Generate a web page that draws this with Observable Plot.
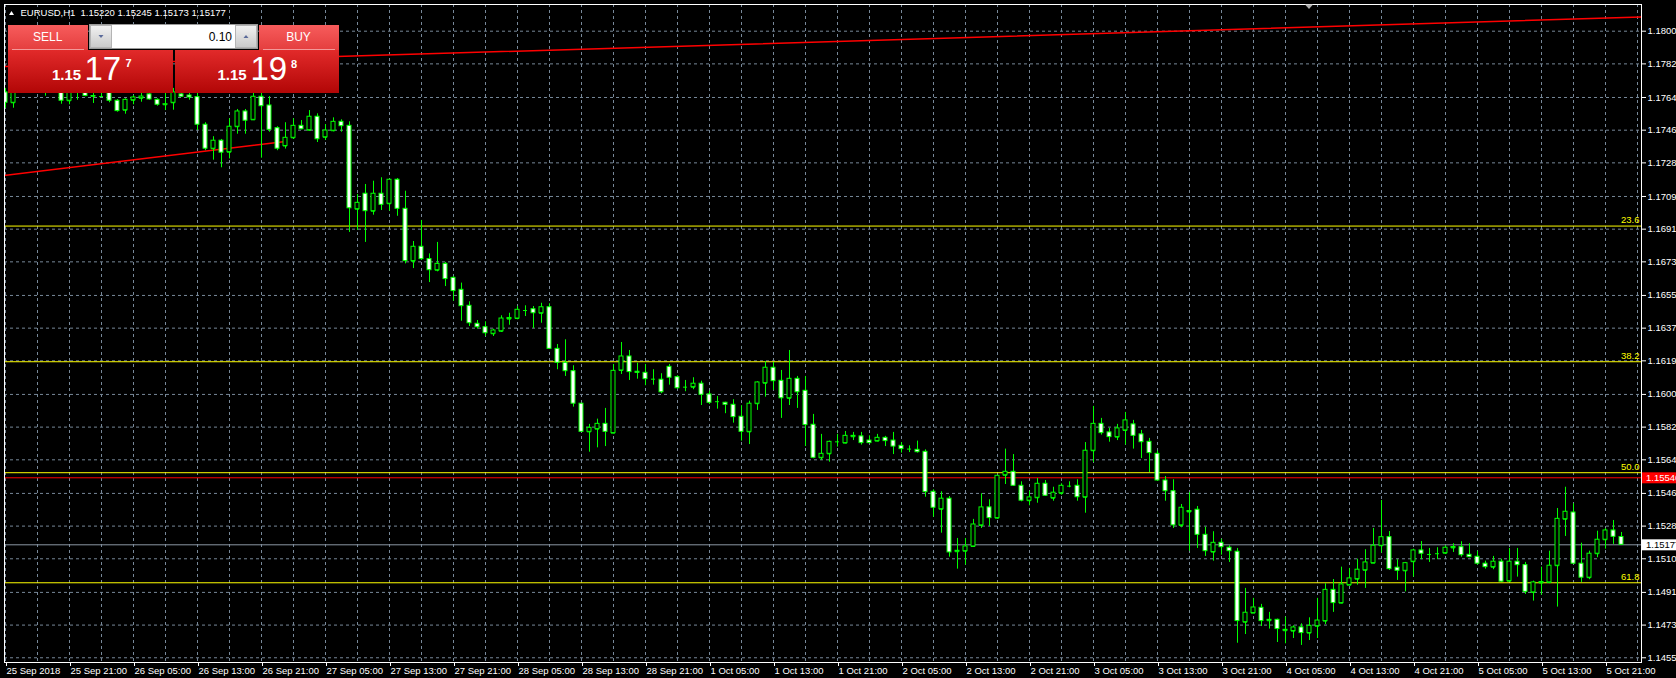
<!DOCTYPE html>
<html><head><meta charset="utf-8">
<script src="https://cdn.jsdelivr.net/npm/d3@7"></script>
<script src="https://cdn.jsdelivr.net/npm/@observablehq/plot@0.6"></script>
<style>
html,body{margin:0;padding:0;background:#000;}
#wrap{position:relative;width:1676px;height:678px;overflow:hidden;background:#000;}
#wrap svg{position:absolute;left:0;top:0;}
</style></head><body><div id="wrap"></div>
<script>
// ---- EURUSD H1 candles (bar index 0 = 25 Sep 13:00) ----
const openP = [1.17668,1.17611,1.17706,1.17734,1.17712,1.17701,1.17690,1.17690,1.17622,1.17679,
1.17668,1.17648,1.17645,1.17668,1.17622,1.17570,1.17625,1.17636,1.17657,1.17627,
1.17600,1.17611,1.17657,1.17651,1.17642,1.17490,1.17358,1.17402,1.17339,1.17479,
1.17563,1.17517,1.17644,1.17596,1.17471,1.17373,1.17418,1.17484,1.17460,1.17534,
1.17421,1.17457,1.17506,1.17484,1.17025,1.17110,1.17014,1.17110,1.17055,1.17187,
1.17027,1.16739,1.16818,1.16750,1.16689,1.16724,1.16647,1.16581,1.16493,1.16394,
1.16375,1.16339,1.16353,1.16420,1.16423,1.16467,1.16474,1.16452,1.16485,1.16256,
1.16179,1.16133,1.15954,1.15799,1.15814,1.15843,1.15792,1.16137,1.16214,1.16130,
1.16124,1.16089,1.16086,1.16157,1.16100,1.16045,1.16045,1.16064,1.16005,1.15965,
1.15959,1.15948,1.15882,1.15799,1.15954,1.16067,1.16152,1.16080,1.15984,1.16091,
1.16025,1.15838,1.15656,1.15678,1.15744,1.15737,1.15772,1.15774,1.15751,1.15748,
1.15766,1.15751,1.15722,1.15704,1.15700,1.15689,1.15469,1.15373,1.15431,1.15139,
1.15142,1.15168,1.15284,1.15383,1.15324,1.15560,1.15579,1.15502,1.15420,1.15436,
1.15513,1.15434,1.15461,1.15500,1.15502,1.15439,1.15695,1.15843,1.15796,1.15770,
1.15807,1.15840,1.15785,1.15744,1.15678,1.15531,1.15472,1.15284,1.15358,1.15370,
1.15232,1.15137,1.15188,1.15161,1.15139,1.14751,1.14801,1.14830,1.14759,1.14764,
1.14704,1.14702,1.14722,1.14691,1.14729,1.14757,1.14929,1.14856,1.14955,1.14988,
1.15037,1.15076,1.15172,1.15219,1.15051,1.15034,1.15084,1.15146,1.15124,1.15128,
1.15131,1.15160,1.15164,1.15122,1.15111,1.15073,1.15054,1.15084,1.14977,1.15084,
1.15065,1.14915,1.14967,1.14970,1.15062,1.15318,1.15355,1.15073,1.14996,1.15128,
1.15205,1.15256,1.15220];
const highP = [1.17690,1.17706,1.17756,1.17761,1.17745,1.17734,1.17745,1.17712,1.17701,1.17712,
1.17701,1.17690,1.17679,1.17690,1.17629,1.17633,1.17651,1.17662,1.17679,1.17633,
1.17662,1.17690,1.17679,1.17673,1.17662,1.17501,1.17424,1.17409,1.17523,1.17574,
1.17574,1.17662,1.17662,1.17645,1.17479,1.17501,1.17523,1.17513,1.17568,1.17550,
1.17491,1.17528,1.17517,1.17506,1.17106,1.17161,1.17179,1.17198,1.17190,1.17194,
1.17124,1.16847,1.16963,1.16779,1.16842,1.16732,1.16654,1.16618,1.16515,1.16412,
1.16405,1.16364,1.16438,1.16452,1.16489,1.16493,1.16489,1.16507,1.16504,1.16280,
1.16306,1.16163,1.15955,1.15840,1.15869,1.15928,1.16170,1.16291,1.16247,1.16177,
1.16170,1.16141,1.16119,1.16170,1.16108,1.16082,1.16097,1.16078,1.16023,1.15994,
1.15962,1.15976,1.15943,1.15968,1.16075,1.16185,1.16181,1.16137,1.16247,1.16104,
1.16104,1.15895,1.15785,1.15748,1.15785,1.15801,1.15796,1.15796,1.15777,1.15785,
1.15774,1.15796,1.15740,1.15722,1.15748,1.15700,1.15480,1.15469,1.15443,1.15212,
1.15212,1.15317,1.15458,1.15425,1.15559,1.15704,1.15674,1.15524,1.15472,1.15542,
1.15531,1.15494,1.15513,1.15524,1.15535,1.15740,1.15939,1.15873,1.15818,1.15840,
1.15906,1.15862,1.15807,1.15763,1.15693,1.15553,1.15535,1.15399,1.15465,1.15388,
1.15274,1.15249,1.15208,1.15172,1.15157,1.14937,1.14882,1.14849,1.14805,1.14768,
1.14779,1.14731,1.14742,1.14775,1.14882,1.14963,1.14986,1.15054,1.15047,1.15098,
1.15150,1.15267,1.15421,1.15250,1.15095,1.15080,1.15153,1.15195,1.15157,1.15161,
1.15172,1.15183,1.15194,1.15183,1.15142,1.15087,1.15113,1.15098,1.15157,1.15157,
1.15080,1.14977,1.15054,1.15142,1.15377,1.15494,1.15403,1.15186,1.15142,1.15252,
1.15267,1.15311,1.15245];
const lowP = [1.17581,1.17581,1.17679,1.17679,1.17673,1.17647,1.17673,1.17603,1.17600,1.17625,
1.17644,1.17607,1.17643,1.17611,1.17559,1.17548,1.17600,1.17614,1.17625,1.17592,
1.17568,1.17570,1.17640,1.17625,1.17458,1.17347,1.17295,1.17253,1.17302,1.17438,
1.17438,1.17513,1.17306,1.17449,1.17347,1.17356,1.17410,1.17462,1.17454,1.17392,
1.17403,1.17451,1.17449,1.16897,1.16908,1.16842,1.16992,1.17018,1.17014,1.16986,
1.16724,1.16698,1.16743,1.16621,1.16680,1.16599,1.16518,1.16408,1.16379,1.16364,
1.16324,1.16324,1.16346,1.16386,1.16416,1.16434,1.16368,1.16397,1.16253,1.16141,
1.16104,1.15935,1.15796,1.15687,1.15711,1.15718,1.15788,1.16115,1.16082,1.16089,
1.16053,1.16056,1.16009,1.16056,1.16034,1.16020,1.16031,1.15944,1.15950,1.15924,
1.15899,1.15847,1.15748,1.15729,1.15917,1.15990,1.16027,1.15873,1.15944,1.15928,
1.15718,1.15651,1.15641,1.15632,1.15715,1.15733,1.15751,1.15726,1.15733,1.15744,
1.15718,1.15674,1.15682,1.15685,1.15682,1.15439,1.15329,1.15241,1.15109,1.15043,
1.15065,1.15164,1.15267,1.15278,1.15318,1.15509,1.15498,1.15414,1.15392,1.15406,
1.15443,1.15417,1.15450,1.15491,1.15417,1.15351,1.15630,1.15781,1.15742,1.15751,
1.15726,1.15704,1.15652,1.15575,1.15527,1.15417,1.15267,1.15271,1.15142,1.15157,
1.15113,1.15087,1.15120,1.15080,1.14635,1.14683,1.14801,1.14727,1.14713,1.14639,
1.14632,1.14661,1.14623,1.14650,1.14661,1.14738,1.14805,1.14852,1.14955,1.14955,
1.14937,1.15073,1.15131,1.15036,1.14981,1.14918,1.14999,1.15095,1.15080,1.15095,
1.15124,1.15135,1.15109,1.15106,1.15065,1.15043,1.15040,1.14970,1.14970,1.14999,
1.14904,1.14867,1.14900,1.14963,1.14834,1.15223,1.15069,1.14970,1.14985,1.15106,
1.15153,1.15179,1.15173];
const closeP = [1.17611,1.17679,1.17734,1.17712,1.17701,1.17690,1.17712,1.17622,1.17679,1.17668,
1.17648,1.17645,1.17645,1.17622,1.17565,1.17627,1.17640,1.17645,1.17629,1.17600,
1.17603,1.17668,1.17644,1.17640,1.17490,1.17358,1.17402,1.17336,1.17479,1.17563,
1.17512,1.17644,1.17592,1.17462,1.17358,1.17418,1.17484,1.17465,1.17534,1.17410,
1.17458,1.17506,1.17482,1.17030,1.17060,1.17014,1.17110,1.17049,1.17187,1.17027,
1.16739,1.16818,1.16750,1.16689,1.16724,1.16640,1.16574,1.16491,1.16397,1.16375,
1.16342,1.16357,1.16423,1.16426,1.16471,1.16467,1.16452,1.16485,1.16256,1.16179,
1.16133,1.15954,1.15799,1.15821,1.15843,1.15799,1.16135,1.16214,1.16128,1.16124,
1.16089,1.16089,1.16017,1.16097,1.16039,1.16045,1.16064,1.16003,1.15959,1.15965,
1.15948,1.15880,1.15799,1.15954,1.16071,1.16152,1.16078,1.15984,1.16091,1.16017,
1.15836,1.15656,1.15678,1.15744,1.15744,1.15777,1.15777,1.15737,1.15737,1.15766,
1.15748,1.15718,1.15704,1.15704,1.15687,1.15467,1.15381,1.15431,1.15135,1.15144,
1.15168,1.15289,1.15383,1.15324,1.15557,1.15579,1.15502,1.15420,1.15438,1.15513,
1.15447,1.15464,1.15502,1.15500,1.15439,1.15695,1.15843,1.15792,1.15770,1.15818,
1.15862,1.15777,1.15742,1.15682,1.15531,1.15472,1.15284,1.15381,1.15363,1.15232,
1.15142,1.15188,1.15164,1.15142,1.14757,1.14803,1.14832,1.14757,1.14764,1.14713,
1.14709,1.14722,1.14691,1.14731,1.14760,1.14929,1.14856,1.14959,1.14992,1.15040,
1.15080,1.15172,1.15219,1.15043,1.15034,1.15076,1.15146,1.15128,1.15124,1.15128,
1.15161,1.15165,1.15120,1.15109,1.15073,1.15054,1.15084,1.14974,1.15084,1.15065,
1.14918,1.14970,1.14972,1.15062,1.15320,1.15359,1.15073,1.14996,1.15128,1.15205,
1.15256,1.15221,1.15177];

// ---- axis labels ----
const xTickBars = [0,8,16,24,32,40,48,56,64,72,80,88,96,104,112,120,128,136,144,152,160,168,176,184,192,200];
const xTickLabels = ["25 Sep 2018","25 Sep 21:00","26 Sep 05:00","26 Sep 13:00","26 Sep 21:00","27 Sep 05:00",
"27 Sep 13:00","27 Sep 21:00","28 Sep 05:00","28 Sep 13:00","28 Sep 21:00","1 Oct 05:00","1 Oct 13:00",
"1 Oct 21:00","2 Oct 05:00","2 Oct 13:00","2 Oct 21:00","3 Oct 05:00","3 Oct 13:00","3 Oct 21:00",
"4 Oct 05:00","4 Oct 13:00","4 Oct 21:00","5 Oct 05:00","5 Oct 13:00","5 Oct 21:00"];
const yTickLabels = ["1.18005","1.17825","1.17640","1.17460","1.17280","1.17095","1.16915","1.16735","1.16550",
"1.16370","1.16190","1.16005","1.15825","1.15645","1.15460","1.15280","1.15100","1.14915","1.14735","1.14555"];

// ---- objects on the chart ----
const fibLevels = [1.16932, 1.16185, 1.15574, 1.14968];
const fibLabels = ["23.6", "38.2", "50.0", "61.8"];
const hLinePrice = 1.15546;
const hLineLabel = "1.15546";
const bidPrice = 1.15177;
const bidLabel = "1.15177";
const trendLow = [{i: -1, p: 1.17206}, {i: 35, p: 1.17398}];
const trendHigh = [{i: 0, p: 1.17810}, {i: 204.5, p: 1.18083}];
const header = ["EURUSD,H1", "1.15220 1.15245 1.15173 1.15177"];

const bars = openP.map((o, i) => ({i, open: o, high: highP[i], low: lowP[i], close: closeP[i]}));
const yTicks = yTickLabels.map(Number);
const GREEN = "#00ff00", GRID = "#778899";
const FONT = "Liberation Sans, Arial, sans-serif";

const plot = Plot.plot({
  width: 1676, height: 678,
  marginLeft: 4, marginRight: 35, marginTop: 4, marginBottom: 16,
  x: {domain: [-0.125, 204.5]},
  y: {domain: [1.14529, 1.18152]},
  color: {type: "identity"},
  style: {background: "black", color: "white", fontFamily: FONT, fontSize: "9.5px", overflow: "hidden"},
  marks: [
    Plot.gridX(d3.range(0, 205, 4), {stroke: GRID, strokeOpacity: 1, strokeDasharray: "3,3"}),
    Plot.gridY(yTicks, {stroke: GRID, strokeOpacity: 1, strokeDasharray: "3,3"}),
    Plot.ruleY(fibLevels, {stroke: "#ffff00"}),
    Plot.ruleY([hLinePrice], {stroke: "#ff0000"}),
    Plot.ruleY([bidPrice], {stroke: "#8a96a3"}),
    Plot.line(trendLow, {x: "i", y: "p", stroke: "#ff0000", clip: true}),
    Plot.line(trendHigh, {x: "i", y: "p", stroke: "#ff0000", clip: true}),
    Plot.ruleX(bars, {x: "i", y1: "low", y2: "high", stroke: GREEN, clip: true}),
    Plot.ruleY(bars, {y: "open", x1: d => d.i - 0.25, x2: d => d.i + 0.25, stroke: GREEN, clip: true}),
    Plot.rect(bars, {x1: d => d.i - 0.25, x2: d => d.i + 0.25, y1: "open", y2: "close",
      fill: d => d.close > d.open ? "black" : "white", stroke: GREEN, clip: true}),
    Plot.text(fibLevels, {y: d => d, text: (d, i) => fibLabels[i], frameAnchor: "right",
      textAnchor: "end", dx: -2, dy: -6, fill: "#ffff00", fontSize: 9.5}),
    Plot.frame({stroke: "white"}),
    Plot.axisY({anchor: "right", ticks: yTicks, tickFormat: d => yTickLabels[yTicks.indexOf(d)],
      tickSize: 4, tickPadding: 2, label: null, fontSize: 9.5}),
    Plot.axisX({anchor: "bottom", ticks: xTickBars, tickFormat: d => xTickLabels[xTickBars.indexOf(d)],
      tickSize: 4, tickPadding: 1, textAnchor: "start", dx: 1, label: null, fontSize: 9.5})
  ]
});
document.getElementById("wrap").appendChild(plot);

// price tags on the right axis
const ys = plot.scale("y");
const NS = "http://www.w3.org/2000/svg";
function tag(price, txt, bg, fg) {
  const y = ys.apply(price);
  const r = document.createElementNS(NS, "rect");
  r.setAttribute("x", 1642); r.setAttribute("y", y - 5); r.setAttribute("width", 40); r.setAttribute("height", 11);
  r.setAttribute("fill", bg);
  plot.appendChild(r);
  const t = document.createElementNS(NS, "text");
  t.setAttribute("x", 1646); t.setAttribute("y", y + 4);
  t.setAttribute("text-anchor", "start");
  t.setAttribute("fill", fg); t.setAttribute("font-size", "9.5"); t.setAttribute("font-family", FONT);
  t.textContent = txt;
  plot.appendChild(t);
}
tag(hLinePrice, hLineLabel, "#ff0000", "#ffffff");
tag(bidPrice, bidLabel, "#ffffff", "#000000");

// terminal overlay: header + one-click trading panel
const ui = `
<svg width="1676" height="678" font-family="${FONT}" style="pointer-events:none">
<defs>
<linearGradient id="gBtn" x1="0" y1="0" x2="0" y2="1"><stop offset="0" stop-color="#f75c5c"/><stop offset="1" stop-color="#e43e3e"/></linearGradient>
<linearGradient id="gPan" x1="0" y1="0" x2="0" y2="1"><stop offset="0" stop-color="#e22a2a"/><stop offset="1" stop-color="#b20606"/></linearGradient>
<linearGradient id="gArr" x1="0" y1="0" x2="0" y2="1"><stop offset="0" stop-color="#f2f2f2"/><stop offset="1" stop-color="#c9c9c9"/></linearGradient>
</defs>
<path d="M9 15 L11.5 11 L14 15 Z" fill="#ffffff"/>
<text x="20.5" y="16" fill="#ffffff" font-size="9.5">${header[0]}</text>
<text x="80.5" y="16" fill="#ffffff" font-size="9.5">${header[1]}</text>
<path d="M1305 4.5 L1313 4.5 L1309 9 Z" fill="#b0b0b0"/>
<rect x="8" y="25" width="80" height="25" fill="url(#gBtn)"/>
<rect x="259" y="25" width="80" height="25" fill="url(#gBtn)"/>
<rect x="8" y="50" width="165" height="43" fill="url(#gPan)"/>
<rect x="175" y="50" width="164" height="43" fill="url(#gPan)"/>
<line x1="12" x2="84" y1="49.5" y2="49.5" stroke="#f39a9a"/>
<line x1="263" x2="335" y1="49.5" y2="49.5" stroke="#f39a9a"/>
<rect x="89.5" y="24.5" width="168" height="24" fill="#ffffff" stroke="#9a9a9a"/>
<rect x="90.5" y="25.5" width="21" height="22" fill="url(#gArr)" stroke="#b4b4b4"/>
<rect x="235.5" y="25.5" width="21" height="22" fill="url(#gArr)" stroke="#b4b4b4"/>
<path d="M98.5 35 L103.5 35 L101 38 Z" fill="#5a6a9a"/>
<path d="M243.5 38 L248.5 38 L246 35 Z" fill="#5a6a9a"/>
<text x="232" y="41" text-anchor="end" font-size="12" fill="#000000">0.10</text>
<text x="47.7" y="40.7" text-anchor="middle" font-size="12" fill="#ffffff">SELL</text>
<text x="298.5" y="40.7" text-anchor="middle" font-size="12" fill="#ffffff">BUY</text>
<text x="52" y="80" font-size="15" font-weight="bold" fill="#ffffff">1.15</text>
<text x="84.5" y="80" font-size="33" fill="#ffffff">17</text>
<text x="125.5" y="67" font-size="11" font-weight="bold" fill="#ffffff">7</text>
<text x="217.5" y="80" font-size="15" font-weight="bold" fill="#ffffff">1.15</text>
<text x="250.5" y="80" font-size="33" fill="#ffffff">19</text>
<text x="291" y="68" font-size="11" font-weight="bold" fill="#ffffff">8</text>
</svg>`;
document.getElementById("wrap").insertAdjacentHTML("beforeend", ui);
</script>
</body></html>
